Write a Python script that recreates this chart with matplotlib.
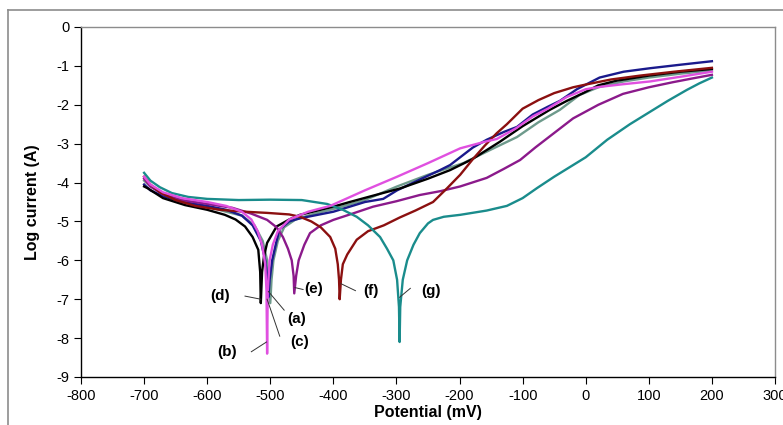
import matplotlib
matplotlib.use("Agg")
import matplotlib.pyplot as plt
from matplotlib.lines import Line2D

plt.rcParams['font.family'] = ['Liberation Sans', 'DejaVu Sans']

# ---- data (potential mV, log current) ----
a_x = [-700, -690, -670, -640, -600, -570, -545, -525, -512, -505, -502, -500, -498, -495, -488, -478, -460, -430, -400, -350, -299, -250, -194, -150, -109, -75, -41, -10, 20, 60, 100, 150, 200]
a_y = [-3.95, -4.1, -4.3, -4.5, -4.62, -4.75, -4.85, -5.1, -5.5, -6.0, -6.5, -7.1, -6.5, -6.0, -5.5, -5.15, -4.95, -4.8, -4.68, -4.45, -4.1, -3.8, -3.5, -3.15, -2.83, -2.45, -2.13, -1.75, -1.55, -1.4, -1.3, -1.2, -1.12]

b_x = [-700, -690, -670, -640, -600, -570, -545, -530, -520, -513, -508, -506, -505, -504, -501, -496, -488, -470, -440, -405, -350, -299, -250, -199, -160, -141, -110, -84, -60, -30, 0, 22, 60, 102, 150, 200]
b_y = [-3.85, -4.05, -4.25, -4.4, -4.5, -4.6, -4.75, -4.95, -5.25, -5.6, -6.1, -6.8, -8.4, -6.8, -6.0, -5.6, -5.25, -4.95, -4.75, -4.6, -4.2, -3.85, -3.5, -3.12, -2.95, -2.88, -2.6, -2.3, -2.1, -1.8, -1.6, -1.54, -1.47, -1.4, -1.28, -1.15]

c_x = [-700, -690, -670, -640, -600, -570, -545, -528, -515, -508, -504, -503, -501, -497, -490, -485, -470, -453, -400, -350, -321, -299, -260, -231, -215, -179, -157, -130, -109, -84, -60, -41, -14, 22, 60, 102, 150, 200]
c_y = [-4.05, -4.2, -4.35, -4.5, -4.6, -4.7, -4.85, -5.1, -5.5, -6.0, -6.5, -6.95, -6.5, -6.0, -5.5, -5.2, -5.0, -4.92, -4.75, -4.5, -4.42, -4.2, -3.9, -3.68, -3.55, -3.1, -2.9, -2.7, -2.57, -2.25, -2.05, -1.9, -1.6, -1.3, -1.15, -1.06, -0.97, -0.88]

d_x = [-700, -694, -670, -635, -600, -572, -555, -540, -528, -519, -516, -515, -513, -510, -505, -490, -470, -453, -400, -374, -340, -294, -250, -215, -180, -136, -100, -57, -30, -4, 20, 49, 100, 150, 200]
d_y = [-4.1, -4.15, -4.4, -4.58, -4.7, -4.83, -4.95, -5.13, -5.4, -5.73, -6.3, -7.1, -6.3, -5.9, -5.55, -5.13, -4.95, -4.83, -4.62, -4.5, -4.35, -4.15, -3.9, -3.68, -3.4, -2.95, -2.55, -2.13, -1.9, -1.7, -1.5, -1.38, -1.25, -1.15, -1.08]

e_x = [-700, -690, -670, -640, -600, -560, -530, -505, -490, -480, -472, -466, -463, -462, -459, -455, -446, -437, -420, -400, -370, -337, -300, -263, -230, -199, -157, -130, -104, -80, -52, -20, 20, 59, 100, 138, 170, 200]
e_y = [-3.9, -4.1, -4.3, -4.45, -4.55, -4.65, -4.8, -4.96, -5.15, -5.4, -5.7, -6.0, -6.4, -6.85, -6.4, -6.0, -5.6, -5.3, -5.1, -4.96, -4.8, -4.62, -4.48, -4.32, -4.22, -4.1, -3.88, -3.65, -3.42, -3.1, -2.75, -2.35, -2.0, -1.72, -1.55, -1.42, -1.32, -1.23]

f_x = [-700, -690, -675, -650, -619, -580, -540, -505, -470, -453, -435, -420, -405, -397, -393, -391, -390, -388, -385, -378, -363, -345, -320, -295, -270, -242, -220, -199, -179, -160, -141, -125, -100, -75, -50, -20, 0, 40, 86, 140, 200]
f_y = [-3.85, -4.05, -4.25, -4.45, -4.6, -4.7, -4.75, -4.78, -4.82, -4.88, -5.0, -5.15, -5.4, -5.7, -6.1, -6.5, -7.0, -6.5, -6.1, -5.85, -5.47, -5.25, -5.1, -4.9, -4.72, -4.5, -4.15, -3.8, -3.4, -3.05, -2.73, -2.5, -2.1, -1.88, -1.7, -1.55, -1.48, -1.35, -1.25, -1.15, -1.05]

g_x = [-700, -690, -675, -656, -630, -600, -550, -500, -450, -410, -385, -363, -345, -326, -315, -305, -299, -296, -295, -294, -290, -283, -273, -263, -250, -242, -225, -199, -157, -125, -100, -77, -50, -25, 0, 34, 70, 102, 130, 160, 180, 200]
g_y = [-3.75, -3.95, -4.12, -4.27, -4.37, -4.42, -4.45, -4.44, -4.45, -4.55, -4.7, -4.88, -5.1, -5.4, -5.7, -6.0, -6.5, -7.2, -8.1, -7.2, -6.5, -6.0, -5.6, -5.3, -5.05, -4.96, -4.88, -4.83, -4.72, -4.6, -4.4, -4.14, -3.85, -3.6, -3.35, -2.9, -2.5, -2.18, -1.9, -1.62, -1.45, -1.3]

x_ticks = [-800, -700, -600, -500, -400, -300, -200, -100, 0, 100, 200, 300]
y_ticks = [0, -1, -2, -3, -4, -5, -6, -7, -8, -9]

series = [
    (a_x, a_y, '#6E9A8C'),
    (c_x, c_y, '#1A1A8C'),
    (d_x, d_y, '#000000'),
    (e_x, e_y, '#8B1A8B'),
    (f_x, f_y, '#8B1010'),
    (g_x, g_y, '#1A8C8C'),
    (b_x, b_y, '#E050E0'),
]

# labels: text, text position, leader start (on curve), leader end
labels = [
    ('(d)', (-580, -6.92), (-515, -7.0), (-540, -6.92)),
    ('(a)', (-458, -7.5), (-503, -6.8), (-478, -7.28)),
    ('(c)', (-453, -8.1), (-505, -7.0), (-485, -7.95)),
    ('(b)', (-568, -8.35), (-506, -8.1), (-530, -8.35)),
    ('(e)', (-432, -6.75), (-461, -6.7), (-448, -6.75)),
    ('(f)', (-340, -6.78), (-388, -6.6), (-365, -6.78)),
    ('(g)', (-245, -6.78), (-295, -6.95), (-278, -6.72)),
]

W, H = 783, 425
fig = plt.figure(figsize=(W / 100, H / 100), dpi=100)
left, right, top, bottom = 81, 775, 27, 377
ax = fig.add_axes([left / W, 1 - bottom / H, (right - left) / W, (bottom - top) / H])

for xs, ys, col in series:
    ax.plot(xs, ys, color=col, lw=1.7, solid_joinstyle='round')

for txt, tpos, p0, p1 in labels:
    ax.plot([p0[0], p1[0]], [p0[1], p1[1]], color='#333333', lw=0.7)
    ax.text(tpos[0], tpos[1], txt, fontsize=11, fontweight='bold', ha='center', va='center')

ax.set_xlim(-800, 300)
ax.set_ylim(-9, 0)
ax.set_xticks(x_ticks)
ax.set_yticks(y_ticks)
ax.set_xticklabels([str(v) for v in x_ticks])
ax.set_yticklabels([str(v) for v in y_ticks])
ax.tick_params(direction='out', length=5, width=0.8, labelsize=10.5, colors='black')
ax.tick_params(axis='x', pad=4)
for s in ['top', 'right']:
    ax.spines[s].set_color('#8C8C8C')
    ax.spines[s].set_linewidth(1.0)
for s in ['left', 'bottom']:
    ax.spines[s].set_color('black')
    ax.spines[s].set_linewidth(1.0)

ax.set_xlabel('Potential (mV)', fontsize=11.5, fontweight='bold', labelpad=1)
ax.set_ylabel('Log current (A)', fontsize=11.5, fontweight='bold', labelpad=12)

# outer chart-area border (left and top visible)
fig.add_artist(Line2D([8 / W, 8 / W], [0, 1 - 10 / H], color='#8C8C8C', lw=1.2, transform=fig.transFigure))
fig.add_artist(Line2D([8 / W, 1], [1 - 10 / H, 1 - 10 / H], color='#8C8C8C', lw=1.2, transform=fig.transFigure))

fig.savefig('out.png', dpi=100)
